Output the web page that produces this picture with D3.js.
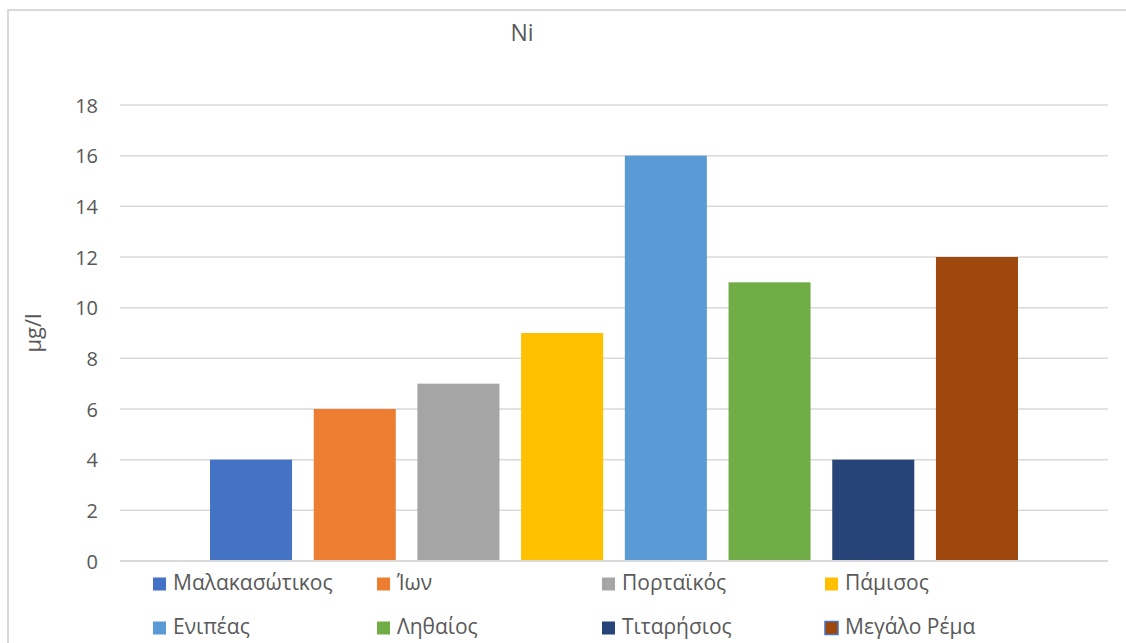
<!DOCTYPE html>
<html>
<head>
<meta charset="utf-8">
<script src="https://cdn.jsdelivr.net/npm/d3@7"></script>
<style>
  html, body { margin: 0; padding: 0; background: #fff; }
  svg { display: block; font-family: "Open Sans", "Noto Sans", sans-serif; }
</style>
</head>
<body>
<svg id="chart" width="1126" height="643"></svg>
<script>
// Ni concentration per river (μg/l)
const rivers = ["Μαλακασώτικος", "Ίων", "Πορταϊκός", "Πάμισος", "Ενιπέας", "Ληθαίος", "Τιταρήσιος", "Μεγάλο Ρέμα"];
const niValues = [4, 6, 7, 9, 16, 11, 4, 12];
const barColors = ["#4472C4", "#ED7D31", "#A5A5A5", "#FFC000", "#5B9BD5", "#70AD47", "#264478", "#9E480E"];
const yTicks = [0, 2, 4, 6, 8, 10, 12, 14, 16, 18];

const svg = d3.select("#chart");
const textColor = "#595959";
const gridColor = "#d9d9d9";

// chart frame (top and left edges visible)
svg.append("path")
  .attr("d", "M8,643 L8,10 L1126,10")
  .attr("fill", "none")
  .attr("stroke", gridColor)
  .attr("stroke-width", 2);

const plot = { left: 120, right: 1108, top: 105, bottom: 561 };

const x = d3.scaleBand()
  .domain(rivers)
  .range([plot.left, plot.right])
  .paddingInner(0.209)
  .paddingOuter(0.868);

const y = d3.scaleLinear()
  .domain([0, 18])
  .range([plot.bottom, plot.top]);

// horizontal gridlines
svg.append("g")
  .selectAll("line")
  .data(yTicks.filter(t => t !== 0))
  .join("line")
  .attr("x1", plot.left)
  .attr("x2", plot.right)
  .attr("y1", d => y(d))
  .attr("y2", d => y(d))
  .attr("stroke", gridColor)
  .attr("stroke-width", 1.5);

// y axis tick labels
const yAxis = d3.axisLeft(y).tickValues(yTicks).tickSize(0).tickPadding(0);
const yg = svg.append("g")
  .attr("transform", `translate(${plot.left - 22},0)`)
  .call(yAxis);
yg.select(".domain").remove();
yg.selectAll("text")
  .attr("fill", textColor)
  .attr("font-size", 20)
  .attr("dy", "0.36em")
  .style("font-family", "'Open Sans', 'Noto Sans', sans-serif");

// bars
svg.append("g")
  .selectAll("rect")
  .data(rivers)
  .join("rect")
  .attr("x", d => x(d))
  .attr("width", x.bandwidth())
  .attr("y", (d, i) => y(niValues[i]))
  .attr("height", (d, i) => y(0) - y(niValues[i]))
  .attr("fill", (d, i) => barColors[i]);

// baseline
svg.append("line")
  .attr("x1", plot.left)
  .attr("x2", plot.right)
  .attr("y1", y(0))
  .attr("y2", y(0))
  .attr("stroke", gridColor)
  .attr("stroke-width", 2);

// title
svg.append("text")
  .attr("x", 522)
  .attr("y", 41)
  .attr("text-anchor", "middle")
  .attr("fill", textColor)
  .attr("font-size", 23)
  .text("Ni");

// y axis title
svg.append("text")
  .attr("transform", `translate(41,${(plot.top + plot.bottom) / 2}) rotate(-90)`)
  .attr("text-anchor", "middle")
  .attr("fill", textColor)
  .attr("font-size", 22)
  .text("μg/l");

// legend: two rows of four
const legendCols = [153, 377, 602, 825];
const legendRows = [590, 634];
const legend = svg.append("g")
  .selectAll("g")
  .data(rivers)
  .join("g")
  .attr("transform", (d, i) => `translate(${legendCols[i % 4]},${legendRows[Math.floor(i / 4)]})`);

legend.append("rect")
  .attr("x", 0)
  .attr("y", -12.5)
  .attr("width", 13)
  .attr("height", 13)
  .attr("fill", (d, i) => barColors[i])
  .attr("stroke", (d, i) => i === 7 ? "#4472C4" : "none")
  .attr("stroke-width", 1.5);

legend.append("text")
  .attr("x", 20)
  .attr("y", 0)
  .attr("fill", textColor)
  .attr("font-size", 21)
  .text(d => d);
</script>
</body>
</html>
